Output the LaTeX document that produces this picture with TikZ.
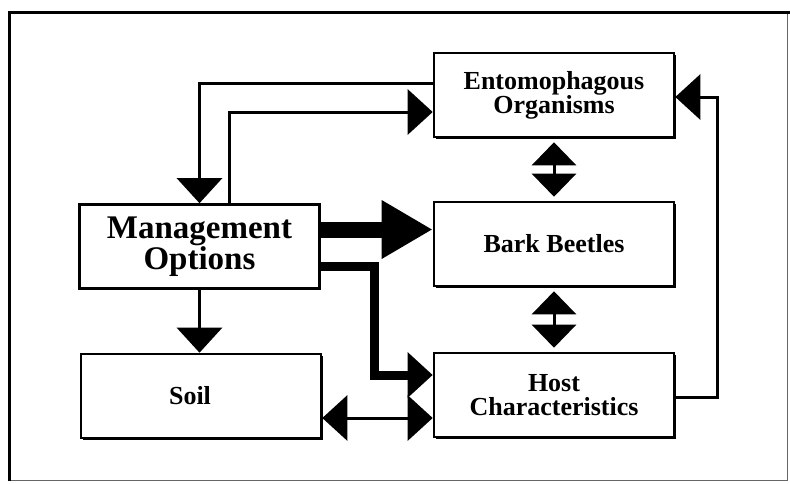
\documentclass[tikz,border=0pt]{standalone}
\usepackage{fontspec}
\setmainfont{Liberation Serif}
\usetikzlibrary{arrows.meta,calc,shadows}
\begin{document}
\begin{tikzpicture}[x=1pt,y=-1pt,
  box/.style={draw, line width=2.6pt, fill=white, align=center, inner sep=0pt,
    minimum width=240pt, minimum height=84pt,
    drop shadow={shadow xshift=1.8pt, shadow yshift=-1.8pt, fill=black, opacity=1},
    font=\bfseries\fontsize{26}{24}\selectfont},
  conn/.style={line width=3pt, -{Triangle[length=25pt,width=45pt]}},
  dconn/.style={line width=3pt, {Triangle[length=23pt,width=44pt]}-{Triangle[length=23pt,width=44pt]}, shorten <=4pt, shorten >=4pt},
  thickconn/.style={line width=9pt, -{Triangle[length=25pt,width=44pt]}}
]
\useasboundingbox (0,0) rectangle (790,483);
% frame
\draw[line width=0.8pt, black!60] (9,480) -- (787,480) -- (787,12);
\draw[line width=3pt] (9,481) -- (9,12) -- (790,12);

\node[box, font=\bfseries\fontsize{33}{30}\selectfont] (mgmt) at (199.5,246.5) {Management\\Options};
\node[box] (ento) at (554,95) {Entomophagous\\Organisms};
\node[box] (bark) at (554,244) {Bark Beetles};
\node[box] (host) at (554,395) {Host\\Characteristics};
\node[box] (soil) at (201,396) {Soil\hspace*{22pt}};

% Entomophagous -> Management
\draw[conn] ($(ento.west)+(0,-12)$) -| (mgmt.north);
% Management -> Entomophagous
\draw[conn] ($(mgmt.north)+(30,0)$) |- ($(ento.west)+(0,17)$);
% Management -> Bark Beetles (thick)
\coordinate (a1) at ($(mgmt.east)+(0,-17)$);
\draw[line width=16pt, -{Triangle[length=51pt,width=55pt]}] (a1) -- (a1 -| bark.west);
% Management -> Host (thick elbow)
\coordinate (a2) at ($(mgmt.east)+(0,19.5)$);
\coordinate (k) at ($(host.west)+(-58,-20)$);
\draw[thickconn] (a2) -| (k) -- (k -| host.west);
% Management -> Soil
\draw[conn] (mgmt.south) -- (mgmt.south |- soil.north);
% Soil <-> Host
\coordinate (c3) at ($(host.west)+(0,23)$);
\draw[line width=3pt, {Triangle[length=25pt,width=45pt]}-{Triangle[length=25pt,width=45pt]}] (c3 -| soil.east) -- (c3);
% Host -> Entomophagous
\draw[conn] ($(host.east)+(0,2)$) -- ++(42,0) |- ($(ento.east)+(0,2)$);
% double arrows
\draw[dconn] (ento.south) -- (bark.north);
\draw[dconn] (bark.south) -- (host.north);
\end{tikzpicture}
\end{document}
